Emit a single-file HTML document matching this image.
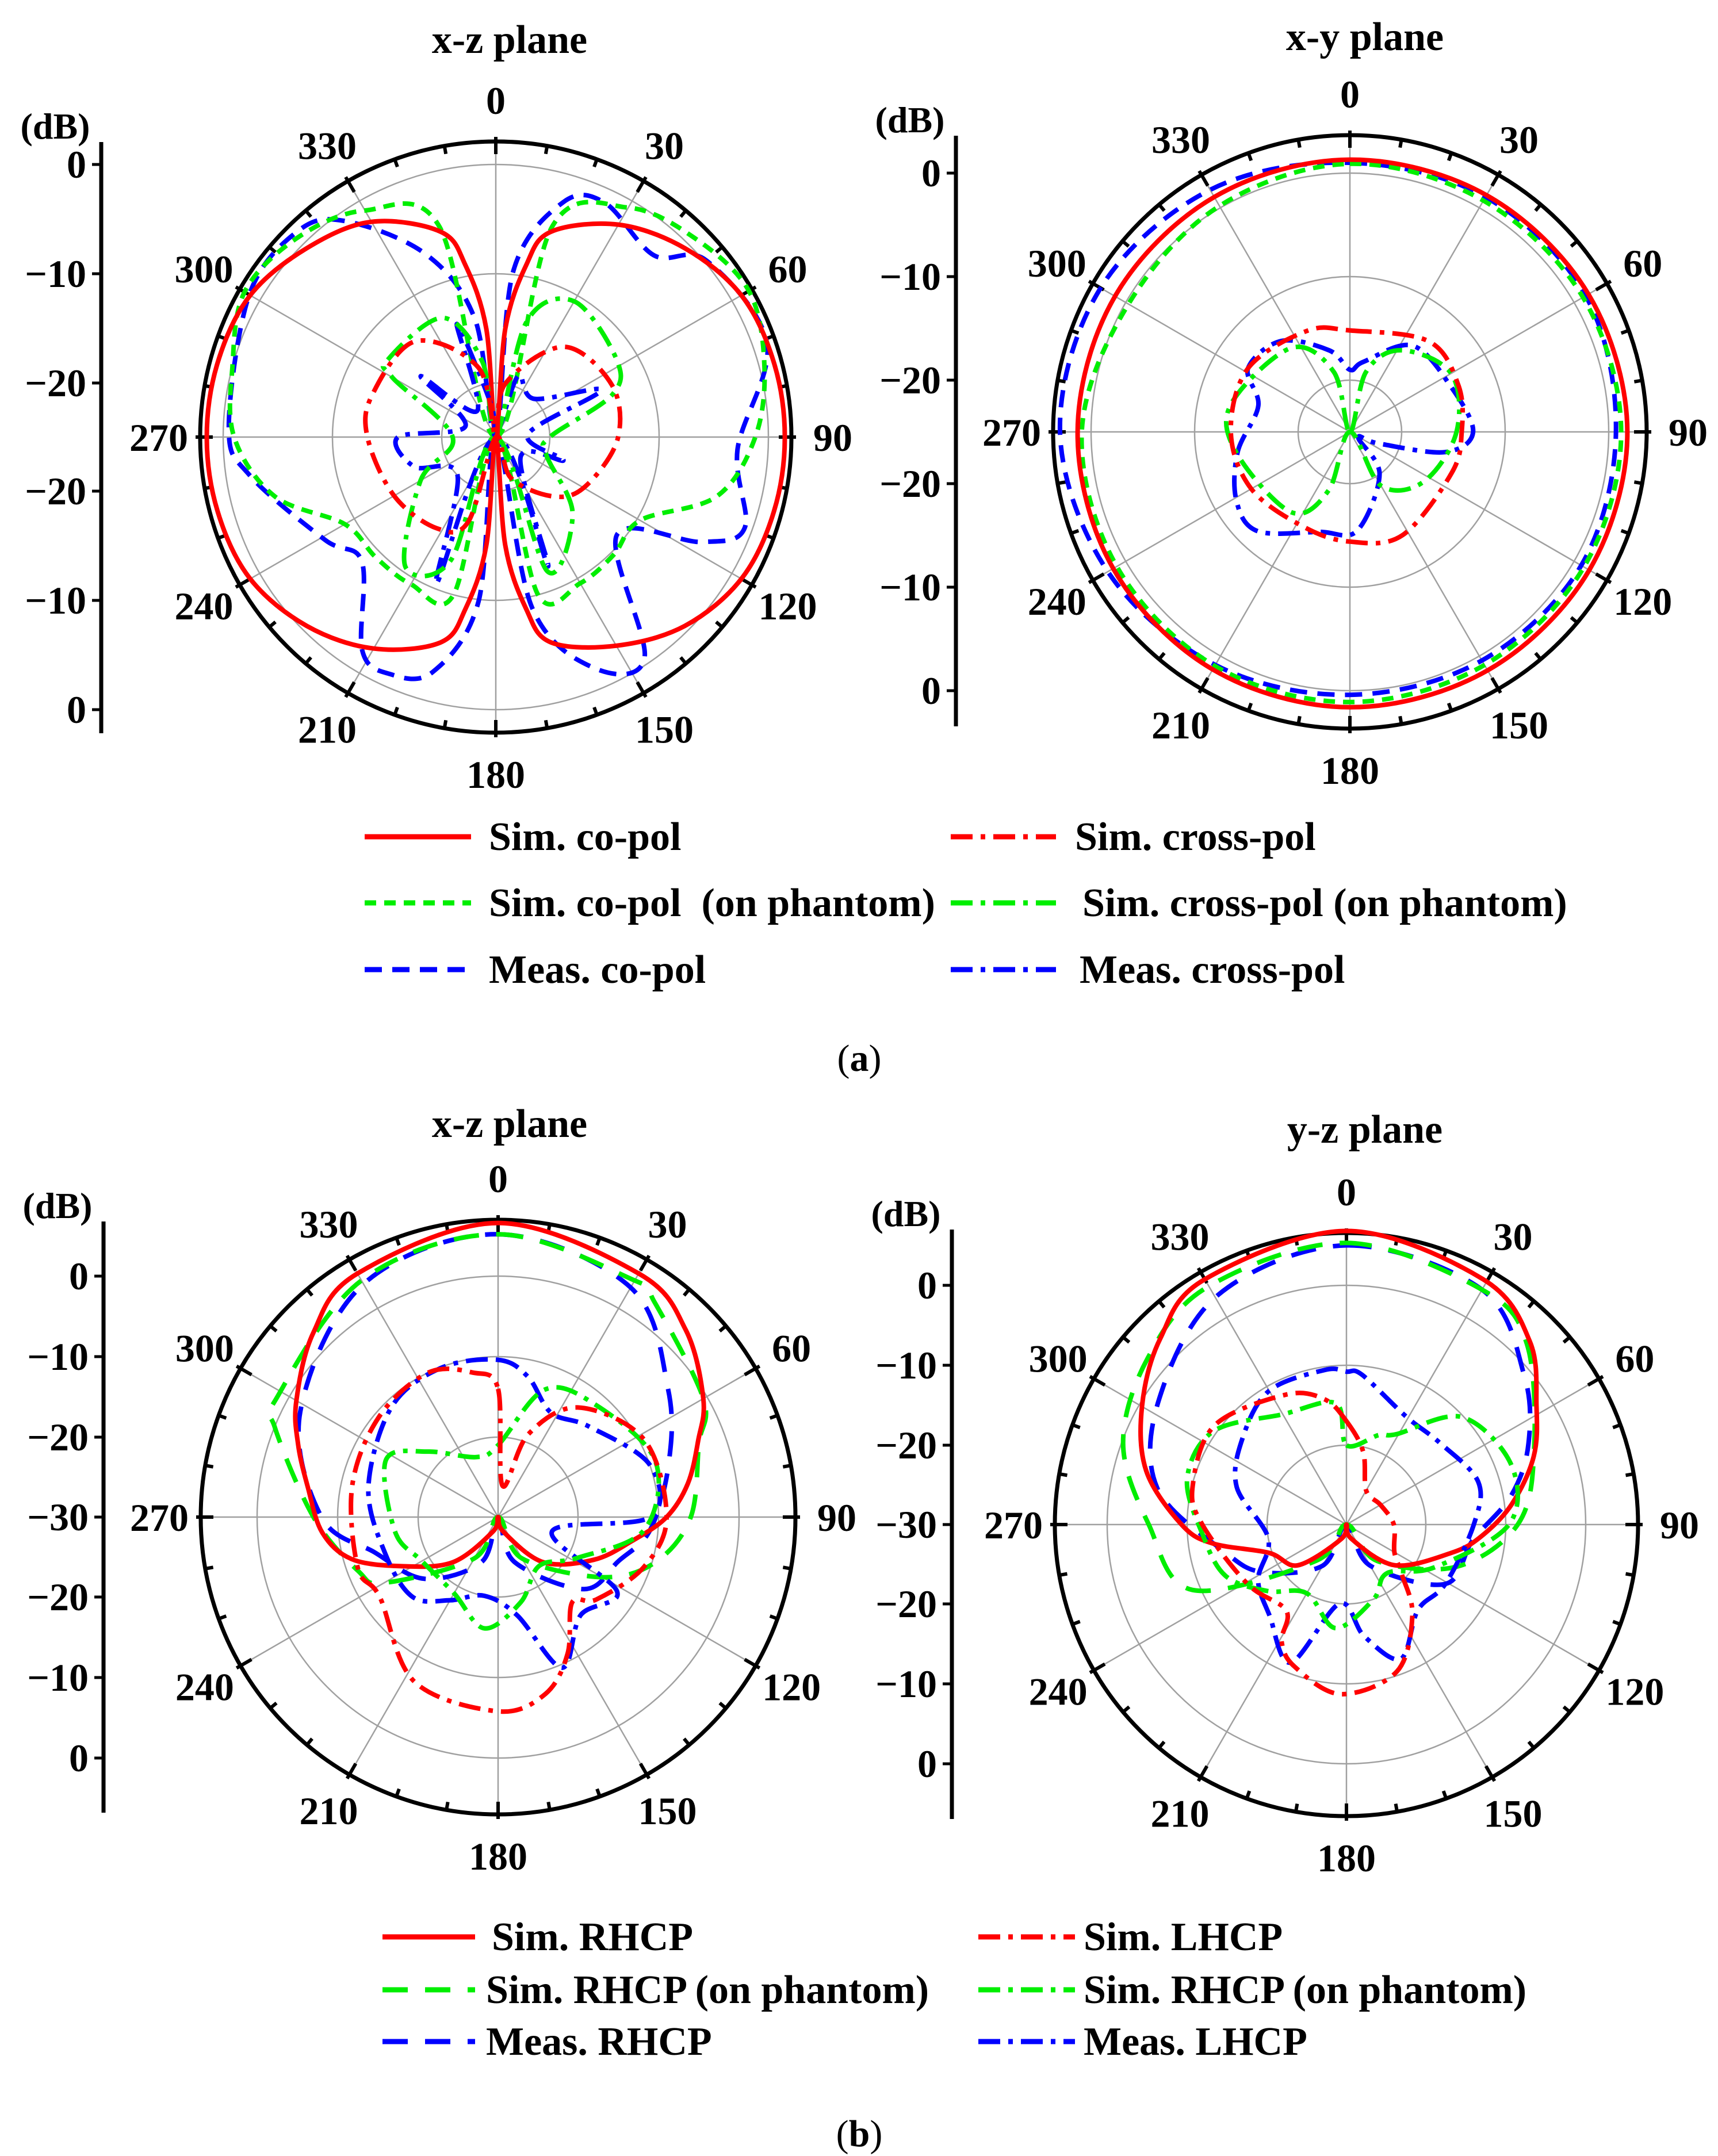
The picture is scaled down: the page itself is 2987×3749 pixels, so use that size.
<!DOCTYPE html>
<html><head><meta charset="utf-8"><style>
html,body{margin:0;padding:0;background:#fff;}
svg{display:block;}
text{font-family:"Liberation Serif",serif;font-weight:bold;fill:#000;}
</style></head><body>
<svg id="fig" xmlns="http://www.w3.org/2000/svg" width="2987" height="3749" viewBox="0 0 2987 3749">
<g id="layer"></g>
</svg>
<script>
// ---------- Panel (a) x-z plane ----------
const a1RedAng=[0,5,10,15,30,45,60,75,90,105,120,135,150,165,170,175,180,185,190,195,210,225,240,255,270,285,300,315,330,345,350,355];
const a1RedVal=[-25,-15,-9,-5.5,-2.5,-0.5,1,1.4,1.5,1.4,1,-0.5,-2.9,-5.5,-9,-15,-25,-15,-9,-5.5,-2.6,-0.5,1,1.4,1.5,1.4,1,-0.5,-2.2,-5.5,-9,-15];
const a1GrnAng=[0,15,30,45,60,75,90,105,120,135,150,165,180,195,210,225,240,255,270,285,300,315,330,345];
const a1GrnVal=[-25,-5,-0.7,0.8,1.8,0.5,-1.2,-4,-9.7,-9.7,-9.5,-10,-25,-10,-9.4,-9.4,-9,-4,-1,0,1.6,0.8,-1,-5];
const a1BluAng=[0,6,16,25,41,50,71,93,110,117,129,146,157,168,178,186,195,204,212,227,239,261,272,300,316,325,339,350];
const a1BluVal=[-25,-9.7,-2.6,-1.3,-2.9,0.2,1.3,-2.8,-0.7,-3.8,-10.7,-0.6,-2,-9,-25,-9.8,-2.7,-1.2,-1.9,-8.2,-6.7,-2.2,-0.5,1.1,1.2,-0.8,-7,-14];
const a1RedXAng=[0,10,37,66,91,119,136,160,180,198,213,240,270,289,320,346];
const a1RedXVal=[-25,-20,-14.6,-13.3,-13.8,-15.6,-17.4,-21,-25,-16.8,-15,-14.2,-13.2,-13,-13.5,-18.4];
const a1GrnXAng=[0,15,30,57,70,90,110,135,159,180,200,215,240,270,300,306,336,350];
const a1GrnXVal=[-25,-14,-10.6,-11.8,-13.6,-20,-20,-15,-11.8,-25,-13,-10.5,-17,-21,-14,-12.8,-13,-18];
const a1BluXAng=[0,20,45,66,85,109,130,158,180,202,225,250,270,290,309,325,341,352];
const a1BluXVal=[-25,-19,-20,-14.4,-22,-18.4,-22,-12.2,-25,-10.5,-20,-17,-16,-22,-16.1,-22,-14,-22];
// ---------- Panel (a) x-y plane ----------
const a2RedAng=[0,30,60,90,120,150,180,210,240,270,300,330];
const a2RedVal=[1.3,1.4,1.6,1.8,1.7,1.6,1.6,1.5,1.4,1.3,1.2,1.2];
const a2GrnAng=[0,30,60,90,120,150,180,210,240,270,300,330];
const a2GrnVal=[0.9,0.8,1.0,1.2,1.1,1.0,1.1,1.1,1.0,0.9,-0.3,0.2];
const a2BluAng=[0,30,60,90,120,150,180,210,240,270,300,330];
const a2BluVal=[1.0,1.2,1.3,0.7,0.8,0.5,0.4,1.0,2.0,3.0,2.8,2.0];
const a2RedXAng=[0,41,67,90,112,153,180,206,240,270,302,337];
const a2RedXVal=[-15.2,-13.4,-13.6,-14.2,-14.4,-13.8,-14.4,-14.8,-14,-13.5,-13.4,-14.4];
const a2GrnXAng=[0,15,32,60,90,124,150,180,200,216,259,283,325,345];
const a2GrnXVal=[-25,-19,-15.7,-13.7,-14.7,-16.4,-19,-25,-19,-15.4,-13.9,-13.2,-15.1,-19];
const a2BluXAng=[0,11,36,66,90,102,112,125,145,176,197,223,239,260,286,302,323,346];
const a2BluXVal=[-19,-18.1,-14.7,-14.3,-13.1,-15.6,-22,-24,-20,-15.4,-14.9,-11.9,-12.2,-14,-15.8,-13.4,-14,-16.9];
// ---------- Panel (b) x-z plane ----------
const b1RedAng=[0,30,45,60,69,80,90,100,114,135,160,180,200,225,243,254,265,279,290,300,315,330];
const b1RedVal=[6.6,5.0,3,-0.5,-3.3,-6,-9,-13,-16.9,-22,-28,-30,-28,-22,-16.5,-11,-8,-6,-3.5,-1,2.5,5.0];
const b1GrnAng=[0,30,36,60,70,90,106,120,150,180,210,240,249,270,292,298,330];
const b1GrnVal=[5.2,4,3.1,-0.5,-3.4,-6,-9.6,-15,-24,-30,-24,-13.6,-11.3,-7,0,1.3,4];
const b1BluAng=[0,30,53,73,95,110,130,160,180,200,230,254,270,298,330];
const b1BluVal=[5.2,3,-3.5,-7.8,-11,-14,-16,-24,-30,-24,-18,-14,-8,-2.1,3.5];
const b1RedXAng=[0,8,20,36,62,90,109,130,139,153,165,180,207,236,250,282,310,334,350];
const b1RedXVal=[-14,-26,-19,-13.1,-9.4,-9,-10.8,-14,-15.9,-10.9,-7.2,-5.8,-7,-12.2,-11.4,-11.4,-10.6,-10,-11.7];
const b1GrnXAng=[0,20,40,70,95,117,140,165,187,210,240,262,297,313,340];
const b1GrnXVal=[-21,-13.1,-11.5,-9.2,-11.7,-18.8,-22,-19,-16,-19,-19,-17,-14.3,-18,-22];
const b1BluXAng=[0,12,27,45,71,90,105,122,140,157,169,190,210,227,252,283,316,339];
const b1BluXVal=[-10.4,-12.1,-15.4,-14,-10,-11,-23,-12.5,-14,-9.6,-17.5,-20,-18,-15.4,-15.2,-13.4,-10.9,-10.1];
// ---------- Panel (b) y-z plane ----------
const b2RedAng=[0,29,45,58,70,83,95,105,130,160,180,200,230,250,262,270,285,300,315,330];
const b2RedVal=[6.8,5.2,2.5,-1.9,-5,-9.1,-13,-16.3,-22,-28,-30,-28,-22,-19.6,-13,-9.3,-4,-0.4,3,5.5];
const b2GrnAng=[0,30,45,69,90,111,140,180,220,247,270,290,310,330];
const b2GrnVal=[5.3,4,2,-4.8,-8.5,-15.2,-24,-30,-24,-9,-5.2,-0.2,2.5,4.5];
const b2BluAng=[0,30,50,66,80,97,121,150,180,210,240,257,281,304,331];
const b2BluVal=[5,4,-0.9,-5,-9,-14,-15.5,-24,-30,-24,-18,-14.4,-5.8,-1.7,3];
const b2RedXAng=[0,13,30,60,90,120,132,144,161,182,200,209,215,239,270,284,307,335,350];
const b2RedXVal=[-17,-20.6,-25,-25,-24,-23,-20.6,-15.9,-10.5,-8.7,-11,-13.2,-16.8,-15.5,-11.9,-10.1,-9.3,-12,-14];
const b2GrnXAng=[0,20,29,47,70,90,116,140,160,186,210,230,247,266,286,305,330,355];
const b2GrnXVal=[-20,-18,-17,-10.2,-8,-9.6,-17.7,-22,-20,-16.9,-20,-17,-13.5,-11.9,-9.2,-9.6,-14,-14.7];
const b2BluXAng=[0,6,29,49,72,90,121,140,158,171,185,202,220,238,260,289,310,330,352];
const b2BluXVal=[-10.8,-11.1,-14.5,-14.4,-12.6,-14,-15.5,-16,-11.8,-15.8,-20,-11.3,-15,-16.9,-20,-15.4,-13,-10.6,-10.4];

const angleLabels=[0,30,60,90,120,150,180,210,240,270,300,330];
const a1Ticks=[0,-10,-20,-20,-10,0];
const a2Ticks=[0,-10,-20,-20,-10,0];
const b1Ticks=[0,-10,-20,-30,-20,-10,0];
const b2Ticks=[0,-10,-20,-30,-20,-10,0];

const NS='http://www.w3.org/2000/svg';
const root=document.getElementById('layer');
function mk(tag,attrs,parent){const e=document.createElementNS(NS,tag);for(const k in attrs)e.setAttribute(k,attrs[k]);(parent||root).appendChild(e);return e;}
const RED='#ff0000',GRN='#00ee00',BLU='#0000ff';
const SOLID='none',SHORT='20 14',DASH='30 18',LDASH='44 30',DD='38 14 8 14';

function panel(p){
  const g=mk('g',{});
  
  
  const rOf=d=>Math.max(0,p.r0+p.k*d);
  const pt=(ang,d)=>{const r=rOf(d),t=ang*Math.PI/180;return [p.cx+r*Math.sin(t),p.cy-r*Math.cos(t)];};
  p.grid.forEach(d=>{const c=mk('circle',{cx:p.cx,cy:p.cy,r:rOf(d),fill:'none',stroke:'#a0a0a0','stroke-width':2.5},g);
    });
  for(let a=0;a<360;a+=30){const t=a*Math.PI/180;const l=mk('line',{x1:p.cx,y1:p.cy,x2:p.cx+p.R*Math.sin(t),y2:p.cy-p.R*Math.cos(t),stroke:'#a0a0a0','stroke-width':2.5},g);
    }
  const oc=mk('circle',{cx:p.cx,cy:p.cy,r:p.R,fill:'none',stroke:'#000','stroke-width':7},g);
  
  for(let a=0;a<360;a+=10){const t=a*Math.PI/180,len=(a%30===0)?22:14;
    const l=mk('line',{x1:p.cx+(p.R-len)*Math.sin(t),y1:p.cy-(p.R-len)*Math.cos(t),x2:p.cx+(p.R+(a%30===0?8:0))*Math.sin(t),y2:p.cy-(p.R+(a%30===0?8:0))*Math.cos(t),stroke:'#000','stroke-width':6},g);
    }
  angleLabels.forEach(a=>{const t=a*Math.PI/180,rr=p.R+72;
    const tx=mk('text',{x:p.cx+rr*Math.sin(t),y:p.cy-rr*Math.cos(t)+24,'text-anchor':'middle','font-size':68},g);
    tx.textContent=a;});
  const ax=mk('line',{x1:p.ax,y1:p.ay0,x2:p.ax,y2:p.ay1,stroke:'#000','stroke-width':7},g);
  
  const half=Math.floor(p.ticks.length/2);
  p.ticks.forEach((d,i)=>{
    let y;
    if(p.ticks.length%2===1&&i===half) y=p.cy;
    else y=(i<p.ticks.length/2)?p.cy-rOf(d):p.cy+rOf(d);
    const tk=mk('line',{x1:p.ax-16,y1:y,x2:p.ax,y2:y,stroke:'#000','stroke-width':5},g);
    
    const tx=mk('text',{x:p.ax-26,y:y+23,'text-anchor':'end','font-size':68},g);
    tx.textContent=(d<0?'\u2212':'')+Math.abs(d);
    });
  const db=mk('text',{x:p.ax-80,y:p.ay0-6,'text-anchor':'middle','font-size':64},g);
  db.textContent='(dB)';
  const ti=mk('text',{x:p.tx,y:p.ty,'text-anchor':'middle','font-size':70},g);
  ti.textContent=p.title;
  p.series.forEach(s=>{
    const pts=s.ang.map((a,i)=>pt(a,s.val[i]));
    const n=pts.length;let d='M'+pts[0][0].toFixed(1)+','+pts[0][1].toFixed(1);
    for(let i=0;i<n;i++){const p0=pts[(i-1+n)%n],p1=pts[i],p2=pts[(i+1)%n],p3=pts[(i+2)%n];
      const c1=[p1[0]+(p2[0]-p0[0])/6,p1[1]+(p2[1]-p0[1])/6],c2=[p2[0]-(p3[0]-p1[0])/6,p2[1]-(p3[1]-p1[1])/6];
      d+='C'+c1[0].toFixed(1)+','+c1[1].toFixed(1)+' '+c2[0].toFixed(1)+','+c2[1].toFixed(1)+' '+p2[0].toFixed(1)+','+p2[1].toFixed(1);}
    const path=mk('path',{d:d+'Z',fill:'none',stroke:s.color,'stroke-width':8,'stroke-dasharray':s.dash,'stroke-linejoin':'round'},g);
    
    });
}
panel({name:'panel-a-xz',title:'x-z plane',tx:886,ty:92,cx:862,cy:760,R:514,r0:474,k:19,grid:[0,-10,-20],ax:176,ay0:247,ay1:1275,ticks:a1Ticks,
 series:[{name:'meas-co-pol-curve',ang:a1BluAng,val:a1BluVal,color:BLU,dash:DASH},{name:'sim-co-pol-phantom-curve',ang:a1GrnAng,val:a1GrnVal,color:GRN,dash:SHORT},
 {name:'sim-co-pol-curve',ang:a1RedAng,val:a1RedVal,color:RED,dash:SOLID},{name:'meas-cross-pol-curve',ang:a1BluXAng,val:a1BluXVal,color:BLU,dash:DD},
 {name:'sim-cross-pol-phantom-curve',ang:a1GrnXAng,val:a1GrnXVal,color:GRN,dash:DD},{name:'sim-cross-pol-curve',ang:a1RedXAng,val:a1RedXVal,color:RED,dash:DD}]});
panel({name:'panel-a-xy',title:'x-y plane',tx:2373,ty:87,cx:2347,cy:751,R:516,r0:450,k:18,grid:[0,-10,-20],ax:1662,ay0:236,ay1:1263,ticks:a2Ticks,
 series:[{name:'meas-co-pol-curve',ang:a2BluAng,val:a2BluVal,color:BLU,dash:DASH},{name:'sim-co-pol-phantom-curve',ang:a2GrnAng,val:a2GrnVal,color:GRN,dash:SHORT},
 {name:'sim-co-pol-curve',ang:a2RedAng,val:a2RedVal,color:RED,dash:SOLID},{name:'meas-cross-pol-curve',ang:a2BluXAng,val:a2BluXVal,color:BLU,dash:DD},
 {name:'sim-cross-pol-phantom-curve',ang:a2GrnXAng,val:a2GrnXVal,color:GRN,dash:DD},{name:'sim-cross-pol-curve',ang:a2RedXAng,val:a2RedXVal,color:RED,dash:DD}]});
panel({name:'panel-b-xz',title:'x-z plane',tx:886,ty:1977,cx:866,cy:2638,R:517,r0:419,k:14,grid:[0,-10,-20],ax:180,ay0:2124,ay1:3152,ticks:b1Ticks,
 series:[{name:'meas-rhcp-curve',ang:b1BluAng,val:b1BluVal,color:BLU,dash:LDASH},{name:'sim-rhcp-phantom-curve',ang:b1GrnAng,val:b1GrnVal,color:GRN,dash:LDASH},
 {name:'sim-rhcp-curve',ang:b1RedAng,val:b1RedVal,color:RED,dash:SOLID},{name:'meas-lhcp-curve',ang:b1BluXAng,val:b1BluXVal,color:BLU,dash:DD},
 {name:'sim-lhcp-phantom-curve',ang:b1GrnXAng,val:b1GrnXVal,color:GRN,dash:DD},{name:'sim-lhcp-curve',ang:b1RedXAng,val:b1RedXVal,color:RED,dash:DD}]});
panel({name:'panel-b-yz',title:'y-z plane',tx:2373,ty:1987,cx:2341,cy:2651,R:507,r0:416,k:13.9,grid:[0,-10,-20],ax:1655,ay0:2138,ay1:3163,ticks:b2Ticks,
 series:[{name:'meas-rhcp-curve',ang:b2BluAng,val:b2BluVal,color:BLU,dash:LDASH},{name:'sim-rhcp-phantom-curve',ang:b2GrnAng,val:b2GrnVal,color:GRN,dash:LDASH},
 {name:'sim-rhcp-curve',ang:b2RedAng,val:b2RedVal,color:RED,dash:SOLID},{name:'meas-lhcp-curve',ang:b2BluXAng,val:b2BluXVal,color:BLU,dash:DD},
 {name:'sim-lhcp-phantom-curve',ang:b2GrnXAng,val:b2GrnXVal,color:GRN,dash:DD},{name:'sim-lhcp-curve',ang:b2RedXAng,val:b2RedXVal,color:RED,dash:DD}]});

function legend(items){items.forEach(it=>{
  const l=mk('line',{x1:it.x1,y1:it.y,x2:it.x2,y2:it.y,stroke:it.color,'stroke-width':9,'stroke-dasharray':it.dash});
  
  const t=mk('text',{x:it.tx,y:it.y+23,'font-size':70});t.textContent=it.label;
  });}
legend([
 {x1:634,x2:819,y:1455,tx:850,color:RED,dash:SOLID,label:'Sim. co-pol'},
 {x1:1653,x2:1836,y:1455,tx:1869,color:RED,dash:DD,label:'Sim. cross-pol'},
 {x1:634,x2:819,y:1570,tx:850,color:GRN,dash:SHORT,label:'Sim. co-pol\u00a0 (on phantom)'},
 {x1:1653,x2:1836,y:1570,tx:1882,color:GRN,dash:DD,label:'Sim. cross-pol (on phantom)'},
 {x1:634,x2:819,y:1686,tx:850,color:BLU,dash:DASH,label:'Meas. co-pol'},
 {x1:1653,x2:1836,y:1686,tx:1877,color:BLU,dash:DD,label:'Meas. cross-pol'},
 {x1:665,x2:826,y:3368,tx:855,color:RED,dash:SOLID,label:'Sim. RHCP'},
 {x1:1701,x2:1869,y:3368,tx:1884,color:RED,dash:DD,label:'Sim. LHCP'},
 {x1:665,x2:826,y:3460,tx:845,color:GRN,dash:LDASH,label:'Sim. RHCP (on phantom)'},
 {x1:1701,x2:1869,y:3460,tx:1884,color:GRN,dash:DD,label:'Sim. RHCP (on phantom)'},
 {x1:665,x2:826,y:3550,tx:845,color:BLU,dash:LDASH,label:'Meas. RHCP'},
 {x1:1701,x2:1869,y:3550,tx:1884,color:BLU,dash:DD,label:'Meas. LHCP'}]);
const ca=mk('text',{x:1494,y:1862,'text-anchor':'middle','font-size':66});
ca.innerHTML='(<tspan font-weight="bold">a</tspan>)';ca.style.fontWeight='normal';
const cb=mk('text',{x:1494,y:3732,'text-anchor':'middle','font-size':66});
cb.innerHTML='(<tspan font-weight="bold">b</tspan>)';cb.style.fontWeight='normal';
</script>
</body></html>
